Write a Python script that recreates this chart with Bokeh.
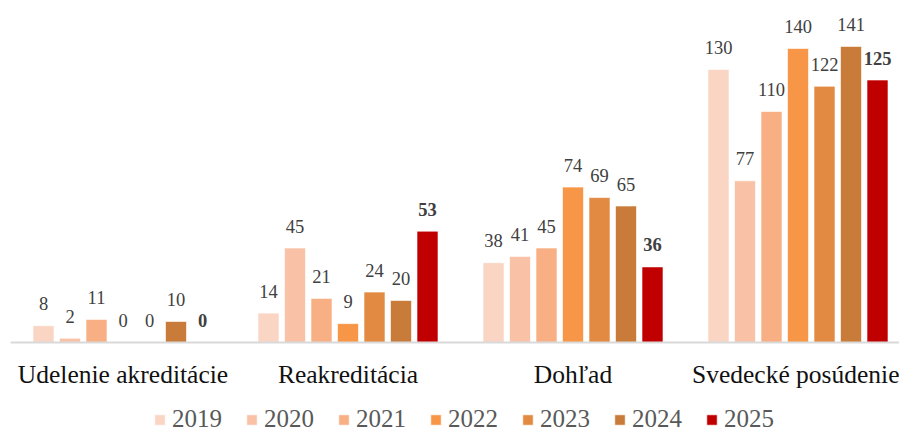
import numpy as np
from bokeh.plotting import figure
from bokeh.models import ColumnDataSource, Range1d, FixedTicker, Legend, LegendItem
from bokeh.transform import dodge
from bokeh.core.properties import value
from bokeh.embed import file_html
from bokeh.resources import INLINE

categories = ["Udelenie akreditácie", "Reakreditácia", "Dohľad", "Svedecké posúdenie"]
years = ["2019", "2020", "2021", "2022", "2023", "2024", "2025"]
v2019 = [8, 14, 38, 130]
v2020 = [2, 45, 41, 77]
v2021 = [11, 21, 45, 110]
v2022 = [0, 9, 74, 140]
v2023 = [0, 24, 69, 122]
v2024 = [10, 20, 65, 141]
v2025 = [0, 53, 36, 125]
series = [v2019, v2020, v2021, v2022, v2023, v2024, v2025]
colors = ["#FAD5C4", "#F9C2A6", "#F8AF83", "#F79646", "#E28A42", "#C97B3A", "#C00000"]

FONT = "Liberation Serif"
W, H = 899, 434
left = 10
px_per_cat = 225.0
baseline = 342
px_per_unit = 2.1

xc = np.arange(len(categories)) + 0.5

p = figure(width=W, height=H, output_backend="svg", toolbar_location=None,
           x_range=Range1d(0, (W - left) / px_per_cat),
           y_range=Range1d(-(H - baseline) / px_per_unit, baseline / px_per_unit),
           min_border_left=left, min_border_right=0, min_border_top=0, min_border_bottom=0)
p.outline_line_color = None
p.xgrid.visible = False
p.ygrid.visible = False
p.yaxis.visible = False

step = 26.5 / 225.0
bw = 21.0 / 225.0
items = []
for j, (yr, vals, col) in enumerate(zip(years, series, colors)):
    src = ColumnDataSource(dict(x=xc, top=vals, lab=[str(v) for v in vals]))
    off = (j - 3) * step
    r = p.vbar(x=dodge("x", off), top="top", bottom=0, width=bw, source=src,
               fill_color=col, line_color="white", line_alpha=0.6, line_width=1)
    items.append(LegendItem(label=yr, renderers=[r]))
    p.text(x=dodge("x", off), y="top", text="lab", source=src,
           text_align="center", text_baseline="alphabetic", y_offset=-22,
           text_font=value(FONT), text_font_size="18.5px",
           text_color="#404040",
           text_font_style="bold" if yr == "2025" else "normal")

ax = p.xaxis[0]
ax.fixed_location = 0
ax.ticker = FixedTicker(ticks=list(xc))
ax.major_label_overrides = {float(x): c for x, c in zip(xc, categories)}
ax.major_tick_line_color = None
ax.major_tick_out = 0
ax.major_tick_in = 0
ax.minor_tick_line_color = None
ax.axis_line_color = "#D9D9D9"
ax.axis_line_width = 2
ax.major_label_text_font = FONT
ax.major_label_text_font_size = "25.5px"
ax.major_label_text_color = "#111111"
ax.major_label_standoff = 17

legend = Legend(items=items, orientation="horizontal", location=(143, 1),
                glyph_width=13, glyph_height=13, label_standoff=6, spacing=23,
                label_text_font=FONT, label_text_font_size="25px",
                label_text_color="#595959", border_line_color=None,
                background_fill_alpha=0, padding=0, margin=0)
p.add_layout(legend, "center")

open("out.html", "w").write(file_html(p, INLINE))
